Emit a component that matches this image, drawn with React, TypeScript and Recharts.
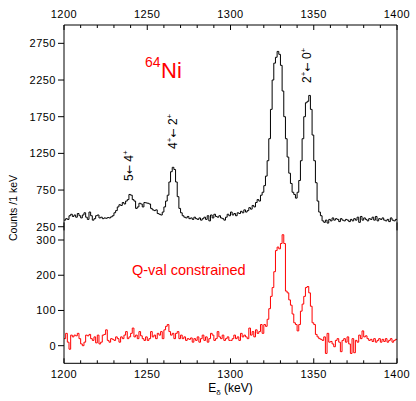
import React from 'react';
import { LineChart, Line, XAxis, YAxis } from 'recharts';

const FONT = '"Liberation Sans", Arial, Helvetica, sans-serif';
const ARROW_FONT = '"DejaVu Sans", sans-serif';

// ---------- data ----------
const E_START = 1200; // keV, low edge of first bin
const E_END = 1400;   // keV, high edge of last bin
const BIN_KEV = 1;

const xTicks = [1200, 1210, 1220, 1230, 1240, 1250, 1260, 1270, 1280, 1290, 1300,
  1310, 1320, 1330, 1340, 1350, 1360, 1370, 1380, 1390, 1400];
const xMajorTicks = [1200, 1250, 1300, 1350, 1400];
const topYTicks = [250, 750, 1250, 1750, 2250, 2750];
const bottomYTicks = [0, 100, 200, 300];

// all events (black), counts per 1 keV bin from 1200 keV
const blackCounts = [
  340, 360, 350, 400, 420, 390, 410, 380, 430, 400,
  370, 410, 440, 380, 350, 450, 400, 340, 360, 400,
  410, 370, 380, 360, 370, 365, 375, 370, 385, 400,
  440, 470, 520, 550, 540, 580, 560, 600, 620, 690,
  680, 620, 600, 500, 520, 570, 560, 520, 580, 575,
  570, 560, 500, 480, 470, 480, 430, 420, 410, 450,
  520, 600, 680, 860, 1000, 1060, 1030, 860, 660, 500,
  440, 400, 380, 370, 390, 360, 370, 350, 380, 360,
  350, 370, 340, 360, 380, 350, 400, 330, 410, 370,
  420, 390, 380, 400, 370, 360, 340, 380, 420, 400,
  450, 410, 430, 400, 440, 430, 460, 440, 480, 450,
  470, 510, 490, 540, 520, 580, 620, 600, 680, 720,
  810, 940, 1150, 1450, 1850, 2250, 2480, 2560, 2640, 2600,
  2450, 2100, 1750, 1450, 1200, 980, 840, 720, 690, 640,
  720, 880, 1150, 1450, 1750, 1940, 1960, 2040, 1850, 1500,
  1150, 850, 600, 450, 400, 330, 310, 340, 300, 350,
  330, 370, 340, 360, 350, 320, 360, 340, 330, 350,
  340, 320, 350, 330, 360, 340, 380, 310, 390, 340,
  370, 350, 330, 360, 350, 380, 340, 390, 330, 360,
  350, 370, 340, 330, 350, 320, 370, 340, 330, 350,
];

// Q-value constrained (red), counts per 1 keV bin from 1200 keV
const redCounts = [
  20, 35, 10, -10, 30, 25, 30, 28, 35, 20,
  5, 0, 10, 30, 28, 32, 20, 15, 25, 8,
  30, 5, 10, 30, 32, 45, 15, 10, 20, 18,
  15, 25, 20, 10, 25, 20, 30, 40, 20, 25,
  35, 50, 25, 30, 20, 40, 28, 20, 15, 25,
  15, 20, 40, 25, 30, 20, 35, 30, 40, 20,
  45, 55, 60, 40, 30, 35, 20, 35, 40, 20,
  30, 20, 25, 15, 20, 18, 22, 10, 20, 15,
  25, 10, 20, 30, 15, 25, 10, 20, 35, 30,
  15, 20, 40, 25, 20, 30, 15, 20, 25, 15,
  15, 20, 30, 20, 25, 15, 35, 25, 30, 25,
  20, 50, 30, 40, 25, 45, 35, 40, 60, 35,
  60, 55, 75, 105, 140, 165, 210, 270, 280, 275,
  290, 315, 290, 155, 150, 130, 115, 90, 65, 60,
  42, 60, 98, 118, 140, 165, 168, 150, 112, 65,
  60, 32, 25, 20, 18, 15, 25, -22, 35, 10,
  12, 5, -3, 15, 20, 10, -17, 15, 20, 10,
  25, 5, -22, 20, -20, 15, 10, 30, 20, 42,
  25, 28, 20, 15, 18, 12, 20, 10, 15, 20,
  10, 18, 12, 20, 10, 15, 20, 10, 15, 18,
];

const toHist = (counts: number[]) => {
  const rows = counts.map((c, i) => ({ e: E_START + i * BIN_KEV, c }));
  rows.push({ e: E_END, c: counts[counts.length - 1] });
  return rows;
};
const blackData = toHist(blackCounts);
const redData = toHist(redCounts);

// ---------- layout ----------
const W = 416;
const H = 401;
const LEFT = 64;
const RIGHT = 397;
const TOP = 25;
const TOP_PANEL_BOTTOM = 230.4;
const BOTTOM_PANEL_TOP = 222.4;
const BOTTOM = 363.3;

const tickFont = { fontSize: 11, fill: '#000', fontFamily: FONT, letterSpacing: 0.5 };

const TopTick = (p: any) => {
  const v = p.payload.value;
  const major = xMajorTicks.includes(v);
  return (
    <g>
      <line x1={p.x} x2={p.x} y1={TOP} y2={TOP + (major ? 5 : 3)} stroke="#000" strokeWidth={1} />
      {major && (
        <text x={p.x} y={17.5} textAnchor="middle" {...tickFont}>{v}</text>
      )}
    </g>
  );
};

const BottomTick = (p: any) => {
  const v = p.payload.value;
  const major = xMajorTicks.includes(v);
  return (
    <g>
      <line x1={p.x} x2={p.x} y1={BOTTOM} y2={BOTTOM - (major ? 5 : 3)} stroke="#000" strokeWidth={1} />
      {major && (
        <text x={p.x} y={378} textAnchor="middle" {...tickFont}>{v}</text>
      )}
    </g>
  );
};

const RightTick = (p: any) => (
  <line x1={RIGHT - 4} x2={RIGHT} y1={p.y} y2={p.y} stroke="#000" strokeWidth={1} />
);

const axisLine = { stroke: '#000', strokeWidth: 1 };

export default function App() {
  return (
    <div style={{ position: 'absolute', left: 0, top: 0, width: W, height: H, background: '#fff' }}>
      <div style={{ position: 'absolute', left: 0, top: 0 }}>
        <LineChart width={W} height={H} data={blackData}
          margin={{ top: 0, right: 0, bottom: H - TOP_PANEL_BOTTOM, left: 0 }}>
          <XAxis xAxisId="t" orientation="top" type="number" dataKey="e" domain={[E_START, E_END]}
            ticks={xTicks} interval={0} height={TOP} axisLine={axisLine} tickLine={false}
            tick={(p: any) => <TopTick {...p} />} />
          <YAxis yAxisId="l" type="number" domain={[200, 3000]} ticks={topYTicks} interval={0}
            width={LEFT} tickSize={6} tickMargin={2} axisLine={axisLine}
            tickLine={{ stroke: '#000' }} tick={tickFont} />
          <YAxis yAxisId="r" orientation="right" type="number" domain={[200, 3000]} ticks={topYTicks}
            interval={0} width={W - RIGHT} axisLine={axisLine} tickLine={false}
            tick={(p: any) => <RightTick {...p} />} />
          <Line xAxisId="t" yAxisId="l" type="stepAfter" dataKey="c" stroke="#000" strokeWidth={1}
            dot={false} activeDot={false} isAnimationActive={false} />
        </LineChart>
      </div>
      <div style={{ position: 'absolute', left: 0, top: 0 }}>
        <LineChart width={W} height={H} data={redData}
          margin={{ top: BOTTOM_PANEL_TOP, right: 0, bottom: 0, left: 0 }}>
          <XAxis xAxisId="b" orientation="bottom" type="number" dataKey="e" domain={[E_START, E_END]}
            ticks={xTicks} interval={0} height={H - BOTTOM} axisLine={axisLine} tickLine={false}
            tick={(p: any) => <BottomTick {...p} />} />
          <YAxis yAxisId="l" type="number" domain={[-50, 350]} ticks={bottomYTicks} interval={0}
            width={LEFT} tickSize={6} tickMargin={2} axisLine={axisLine}
            tickLine={{ stroke: '#000' }} tick={tickFont} />
          <YAxis yAxisId="r" orientation="right" type="number" domain={[-50, 350]} ticks={bottomYTicks}
            interval={0} width={W - RIGHT} axisLine={axisLine} tickLine={false}
            tick={(p: any) => <RightTick {...p} />} />
          <Line xAxisId="b" yAxisId="l" type="stepAfter" dataKey="c" stroke="#ff0000" strokeWidth={1}
            dot={false} activeDot={false} isAnimationActive={false} />
        </LineChart>
      </div>
      <svg width={W} height={H} style={{ position: 'absolute', left: 0, top: 0, pointerEvents: 'none' }}
        fontFamily={FONT}>
        <text x={145} y={67} fill="#ff0000" fontSize={14}>64</text>
        <text x={161} y={78} fill="#ff0000" fontSize={22}>Ni</text>

        <text transform="translate(133,181) rotate(-90)" fontSize={12} fill="#000">
          5<tspan fontFamily={ARROW_FONT} fontSize={11}>←</tspan> 4<tspan dy={-5} fontSize={8}>+</tspan>
        </text>
        <text transform="translate(177,149) rotate(-90)" fontSize={12} fill="#000">
          4<tspan dy={-5} fontSize={8}>+</tspan><tspan dy={5} fontFamily={ARROW_FONT} fontSize={11}>←</tspan><tspan> 2</tspan><tspan dy={-5} fontSize={8}>+</tspan>
        </text>
        <text transform="translate(311,83) rotate(-90)" fontSize={12} fill="#000">
          2<tspan dy={-5} fontSize={8}>+</tspan><tspan dy={5} fontFamily={ARROW_FONT} fontSize={11}>←</tspan><tspan> 0</tspan><tspan dy={-5} fontSize={8}>+</tspan>
        </text>

        <text x={132} y={275} fill="#ff0000" fontSize={14.5}>Q-val constrained</text>

        <text transform="translate(17,208) rotate(-90)" textAnchor="middle" fontSize={10.5} fill="#000">
          Counts /1 keV
        </text>
        <text x={230.5} y={392} textAnchor="middle" fontSize={12} fill="#000">
          E<tspan dy={3} fontSize={8}>δ</tspan><tspan dy={-3}> (keV)</tspan>
        </text>
      </svg>
    </div>
  );
}
